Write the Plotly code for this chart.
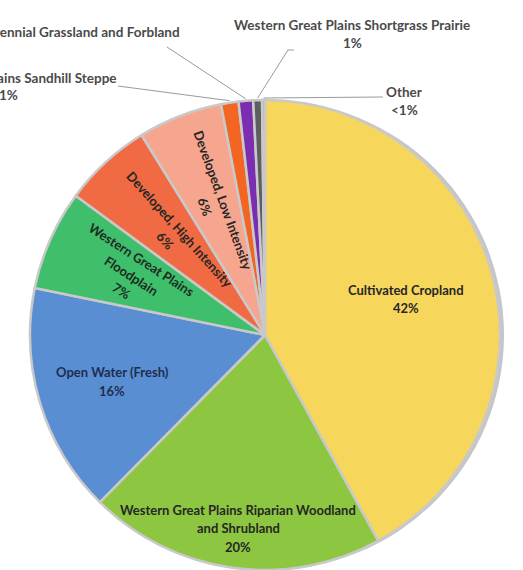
import math
import plotly.graph_objects as go

# ---------------- data ----------------
categories = [
    "Cultivated Cropland",
    "Western Great Plains Riparian Woodland and Shrubland",
    "Open Water (Fresh)",
    "Western Great Plains Floodplain",
    "Developed, High Intensity",
    "Developed, Low Intensity",
    "Western Great Plains Sandhill Steppe",
    "Introduced Upland Vegetation - Perennial Grassland and Forbland",
    "Western Great Plains Shortgrass Prairie",
    "Other",
]
values = [42.0, 20.4, 15.8, 6.9, 6.1, 5.8, 1.2, 1.0, 0.6, 0.2]
pct_labels = ["42%", "20%", "16%", "7%", "6%", "6%", "1%", "1%", "1%", "<1%"]
colors = ["#F6D65B", "#8DC641", "#5A8ED3", "#3FBE6C", "#F06A43",
          "#F6A58E", "#F26522", "#7B2FB0", "#5E5E5E", "#A8A8A8"]

# ---------------- geometry ----------------
W, H = 523, 570
CX, CY, R = 265, 335, 235          # pie centre / radius in pixels


def px(x):
    return x / W


def py(y):
    return 1 - y / H


total = sum(values)
cum = [0]
for v in values:
    cum.append(cum[-1] + v)
mid_deg = [(cum[i] + cum[i + 1]) / 2 / total * 360 for i in range(len(values))]


def polar(deg, rad):
    t = math.radians(deg)
    return CX + rad * math.sin(t), CY - rad * math.cos(t)


fig = go.Figure()

# soft shadow behind the pie
fig.add_trace(go.Pie(
    values=[total], marker=dict(colors=["rgba(90,90,100,0.35)"], line=dict(width=0)),
    textinfo="none", hoverinfo="skip", sort=False,
    domain=dict(x=[px(CX - R + 4), px(CX + R + 4)], y=[0, (2 * R) / H]),
))

fig.add_trace(go.Pie(
    labels=categories, values=values, sort=False, direction="clockwise", rotation=0,
    marker=dict(colors=colors, line=dict(color="#C9C9C9", width=2.5)),
    textinfo="none", hoverinfo="skip",
    domain=dict(x=[px(CX - R), px(CX + R)], y=[0, (2 * R) / H]),
))

FONT = "Lato, 'Open Sans', sans-serif"
IN_COLOR = "#262626"
OUT_COLOR = "#4A4A4A"


def add_lines(cx, cy, lines, angle=0, gap=18.5, size=13, color=IN_COLOR,
              xanchor="center", bold=True):
    n = len(lines)
    t = math.radians(angle)
    ox, oy = -math.sin(t), math.cos(t)
    for i, line in enumerate(lines):
        off = (i - (n - 1) / 2) * gap
        fig.add_annotation(
            x=px(cx + off * ox), y=py(cy + off * oy), xref="paper", yref="paper",
            text=f"<b>{line}</b>" if bold else line, textangle=angle, showarrow=False,
            xanchor=xanchor, yanchor="middle",
            font=dict(family=FONT, size=size, color=color),
        )


# inside labels: (slice index, text lines, radius fraction, text angle, colour)
inside = [
    (0, ["Cultivated Cropland"], 0.62, 0, IN_COLOR),
    (1, ["Western Great Plains Riparian Woodland", "and Shrubland"], 0.83, 0, IN_COLOR),
    (2, ["Open Water (Fresh)"], 0.68, 0, "#1F2D4F"),
    (3, ["Western Great Plains", "Floodplain"], 0.62, 33, "#1E2A1E"),
    (4, ["Developed, High Intensity"], 0.58, 48, IN_COLOR),
    (5, ["Developed, Low Intensity"], 0.60, 70, IN_COLOR),
]
for idx, lines, frac, ang, col in inside:
    cx, cy = polar(mid_deg[idx], R * frac)
    add_lines(cx, cy, lines + [pct_labels[idx]], angle=ang, color=col)

# outside labels with leader lines
add_lines(119, 78, [categories[6]], color=OUT_COLOR, xanchor="right", size=13.5)
add_lines(8, 95, [pct_labels[6]], color=OUT_COLOR, size=13.5)
add_lines(182, 32, [categories[7]], color=OUT_COLOR, xanchor="right", size=13.5)
add_lines(352, 34, [categories[8], pct_labels[8]], color=OUT_COLOR, size=13.5)
add_lines(404, 101, [categories[9], pct_labels[9]], color=OUT_COLOR, size=13.5)

leaders = [
    (6, [(118, 86)]),
    (7, [(167, 47)]),
    (8, [(294, 50), (288, 50)]),
    (9, [(383, 97)]),
]
for idx, pts in leaders:
    ex, ey = polar(mid_deg[idx], R + 2)
    allpts = pts + [(ex, ey)]
    path = "M " + " L ".join(f"{px(x):.5f},{py(y):.5f}" for x, y in allpts)
    fig.add_shape(type="path", path=path, xref="paper", yref="paper",
                  line=dict(color="#9A9A9A", width=1))

fig.update_layout(
    width=W, height=H, margin=dict(l=0, r=0, t=0, b=0),
    paper_bgcolor="white", plot_bgcolor="white", showlegend=False,
)

fig.write_html("out.html", config={"displayModeBar": False},
               post_script="document.body.style.margin='0';document.body.style.overflow='hidden';")
